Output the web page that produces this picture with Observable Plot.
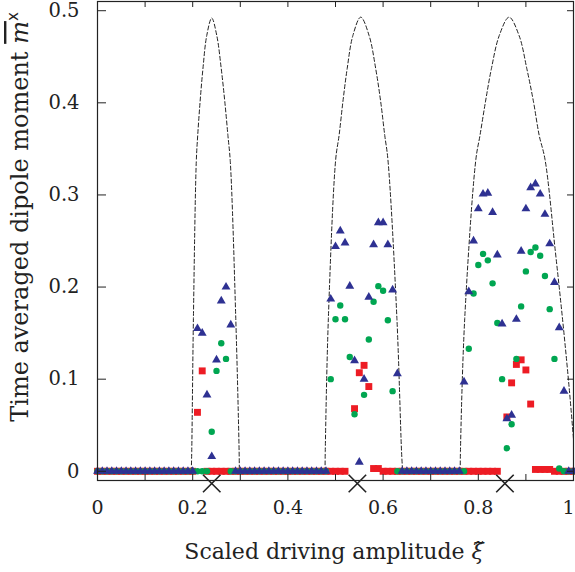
<!DOCTYPE html>
<html><head><meta charset="utf-8">
<script src="https://cdn.jsdelivr.net/npm/d3@7"></script>
<script src="https://cdn.jsdelivr.net/npm/@observablehq/plot@0.6"></script>
<style>body{margin:0;background:#fff} svg{display:block}</style>
</head><body><div id="chart"></div>
<script>
// x grid (scaled driving amplitude)
const xs = [0,0.01,0.02,0.03,0.04,0.05,0.06,0.07,0.08,0.09,
  0.1,0.11,0.12,0.13,0.14,0.15,0.16,0.17,0.18,0.19,
  0.2,0.21,0.22,0.23,0.24,0.25,0.26,0.27,0.28,0.29,
  0.3,0.31,0.32,0.33,0.34,0.35,0.36,0.37,0.38,0.39,
  0.4,0.41,0.42,0.43,0.44,0.45,0.46,0.47,0.48,0.49,
  0.5,0.51,0.52,0.53,0.54,0.55,0.56,0.57,0.58,0.59,
  0.6,0.61,0.62,0.63,0.64,0.65,0.66,0.67,0.68,0.69,
  0.7,0.71,0.72,0.73,0.74,0.75,0.76,0.77,0.78,0.79,
  0.8,0.81,0.82,0.83,0.84,0.85,0.86,0.87,0.88,0.89,
  0.9,0.91,0.92,0.93,0.94,0.95,0.96,0.97,0.98,0.99,1];

// blue triangles
const triangles = [0,0,0,0,0,0,0,0,0,0,
  0,0,0,0,0,0,0,0,0,0,
  0,0.155,0.150,0.083,0.016,0.121,0.185,0.200,0.159,0,
  0,0,0,0,0,0,0,0,0,0,
  0,0,0,0,0,0,0,0,0,0.187,
  0.244,0.261,0.248,0.201,0.120,0.010,0.100,0.189,0.246,0.270,
  0.270,0.246,0.197,0.106,0,0,0,0,0,0,
  0,0,0,0,0,0,0,0.097,0.195,0.250,
  0.285,0.301,0.302,0.281,0.235,0.160,0.057,0.061,0.165,0.239,
  0.285,0.308,0.312,0.301,0.279,0.247,0.205,0.156,0.087,0,0];

// green circles
const circles = [0,0,0,0,0,0,0,0,0,0,
  0,0,0,0,0,0,0,0,0,0,
  0,0,0,0,0.043,0.109,0.139,0.122,0,0,
  0,0,0,0,0,0,0,0,0,0,
  0,0,0,0,0,0,0,0,0,0.100,
  0.165,0.180,0.165,0.124,0.062,null,0.083,0.143,0.184,0.201,
  0.196,0.164,0.087,0,0,0,0,0,0,0,
  0,0,0,0,0,0,0,0,0.133,0.193,
  0.224,0.236,0.229,0.204,0.161,0.100,0.025,0.051,0.122,0.179,
  0.217,0.238,0.243,0.234,0.212,0.176,0.122,0.003,0,0,0];

// red squares
const squares = [0,0,0,0,0,0,0,0,0,0,
  0,0,0,0,0,0,0,0,0,0,
  0,0.064,0.109,0,0,0,0,0,0,0,
  0,0,0,0,0,0,0,0,0,0,
  0,0,0,0,0,0,0,0,0,0,
  0,0,0,null,0.068,0.107,0.115,0.092,0.003,0.003,
  0,0,0,0,0,0,0,0,0,0,
  0,0,0,0,0,0,0,0,0,0,
  0,0,0,0,0,null,0.059,0.096,0.116,0.121,
  0.110,0.073,0.002,0.002,0.002,0.002,0,0,0,0,0];

// dashed envelopes [x, y]
const arch1 = [[0.197,0],[0.198,0.022],[0.2015,0.166],[0.2075,0.336],[0.2105,0.3645],[0.2155,0.401],[0.2215,0.437],[0.2295,0.473],[0.240,0.492],[0.2506,0.473],[0.2600,0.437],[0.2675,0.401],[0.2740,0.3645],[0.2790,0.336],[0.2905,0.166],[0.2975,0.022],[0.298,0]];
const arch2 = [[0.478,0],[0.4785,0.022],[0.4850,0.166],[0.5005,0.339],[0.5075,0.3645],[0.5155,0.401],[0.5245,0.437],[0.5365,0.473],[0.553,0.493],[0.5706,0.473],[0.5845,0.437],[0.5950,0.401],[0.6035,0.3645],[0.6100,0.339],[0.6290,0.166],[0.6387,0.022],[0.641,0]];
const arch3 = [[0.762,0],[0.7625,0.022],[0.7715,0.166],[0.7950,0.339],[0.8035,0.3645],[0.8150,0.401],[0.8275,0.437],[0.8440,0.473],[0.8647,0.493],[0.8857,0.473],[0.9020,0.437],[0.9160,0.401],[0.9280,0.3645],[0.9400,0.339],[0.9620,0.238],[0.9780,0.160],[0.9910,0.090],[1.0,0.035]];

// markers below the axis
const crossX = [0.240, 0.546, 0.856];

const xTickValues = [0,0.1,0.2,0.3,0.4,0.5,0.6,0.7,0.8,0.9,1];
const xLabelValues = [0,0.2,0.4,0.6,0.8];
const xLabelLast = [1];
const yTickValues = [0,0.1,0.2,0.3,0.4,0.5];

const table = (vals) => xs.map((x, i) => ({x, y: vals[i]})).filter(d => d.y != null);
const arches = [arch1, arch2, arch3].flatMap((a, k) => a.map(([x, y]) => ({x, y, arch: k})));

const ink = "#222";
const chart = Plot.plot({
  width: 575, height: 572,
  marginLeft: 97, marginRight: 2, marginTop: 1, marginBottom: 92,
  x: {domain: [0, 1], axis: null},
  y: {domain: [-0.01, 0.51], axis: null},
  style: {fontFamily: "'DejaVu Serif', serif", fontSize: "19px", color: ink, background: "#fff"},
  marks: [
    Plot.line(arches, {x: "x", y: "y", z: "arch", stroke: ink, strokeWidth: 1, strokeDasharray: "4,2.5", curve: "catmull-rom"}),
    Plot.dot(table(squares), {x: "x", y: "y", symbol: "square", r: 3.9, fill: "#ed1c24"}),
    Plot.dot(table(circles), {x: "x", y: "y", symbol: "circle", r: 3.2, fill: "#00a651"}),
    Plot.dot(table(triangles), {x: "x", y: "y", symbol: "triangle", r: 3.3, fill: "#2e3192"}),
    Plot.tickX(xTickValues, {x: d => d, stroke: ink, insetTop: 473}),
    Plot.tickX(xTickValues, {x: d => d, stroke: ink, insetBottom: 473}),
    Plot.tickY(yTickValues, {y: d => d, stroke: ink, insetRight: 467}),
    Plot.tickY(yTickValues, {y: d => d, stroke: ink, insetLeft: 470}),
    Plot.frame({stroke: ink, strokeWidth: 1.2}),
    Plot.text(xLabelValues, {x: d => d, text: d => String(d), frameAnchor: "bottom", dy: 33, fontSize: 19, fill: ink}),
    Plot.text(xLabelLast, {x: d => d, text: d => String(d), frameAnchor: "bottom", dy: 33, dx: 1, textAnchor: "end", fontSize: 19, fill: ink}),
    Plot.text(yTickValues, {y: d => d, text: d => String(d), frameAnchor: "left", dx: -18, textAnchor: "end", fontSize: 19.5, fill: ink}),
    Plot.dot(crossX, {x: d => d, frameAnchor: "bottom", dy: 3, symbol: "times", r: 8, stroke: ink, strokeWidth: 1.6})
  ]
});
document.getElementById("chart").appendChild(chart);

// axis titles
const svg = d3.select(chart);
const xt = svg.append("text").attr("x", 334).attr("y", 559).attr("text-anchor", "middle")
  .attr("font-family", "'DejaVu Serif', serif").attr("font-size", 22).attr("fill", ink);
xt.append("tspan").text("Scaled driving amplitude ");
xt.append("tspan").attr("font-style", "italic").text("\u03BE\u0303");

const yt = svg.append("text").attr("transform", "translate(28,217) rotate(-90)").attr("text-anchor", "middle")
  .attr("font-family", "'DejaVu Serif', serif").attr("font-size", 24).attr("fill", ink);
yt.append("tspan").text("Time averaged dipole moment ");
yt.append("tspan").attr("font-style", "italic").style("text-decoration", "overline").text("m");
yt.append("tspan").attr("font-family", "'DejaVu Sans', sans-serif").attr("font-size", 15).attr("dy", -10).text("x");
</script></body></html>
